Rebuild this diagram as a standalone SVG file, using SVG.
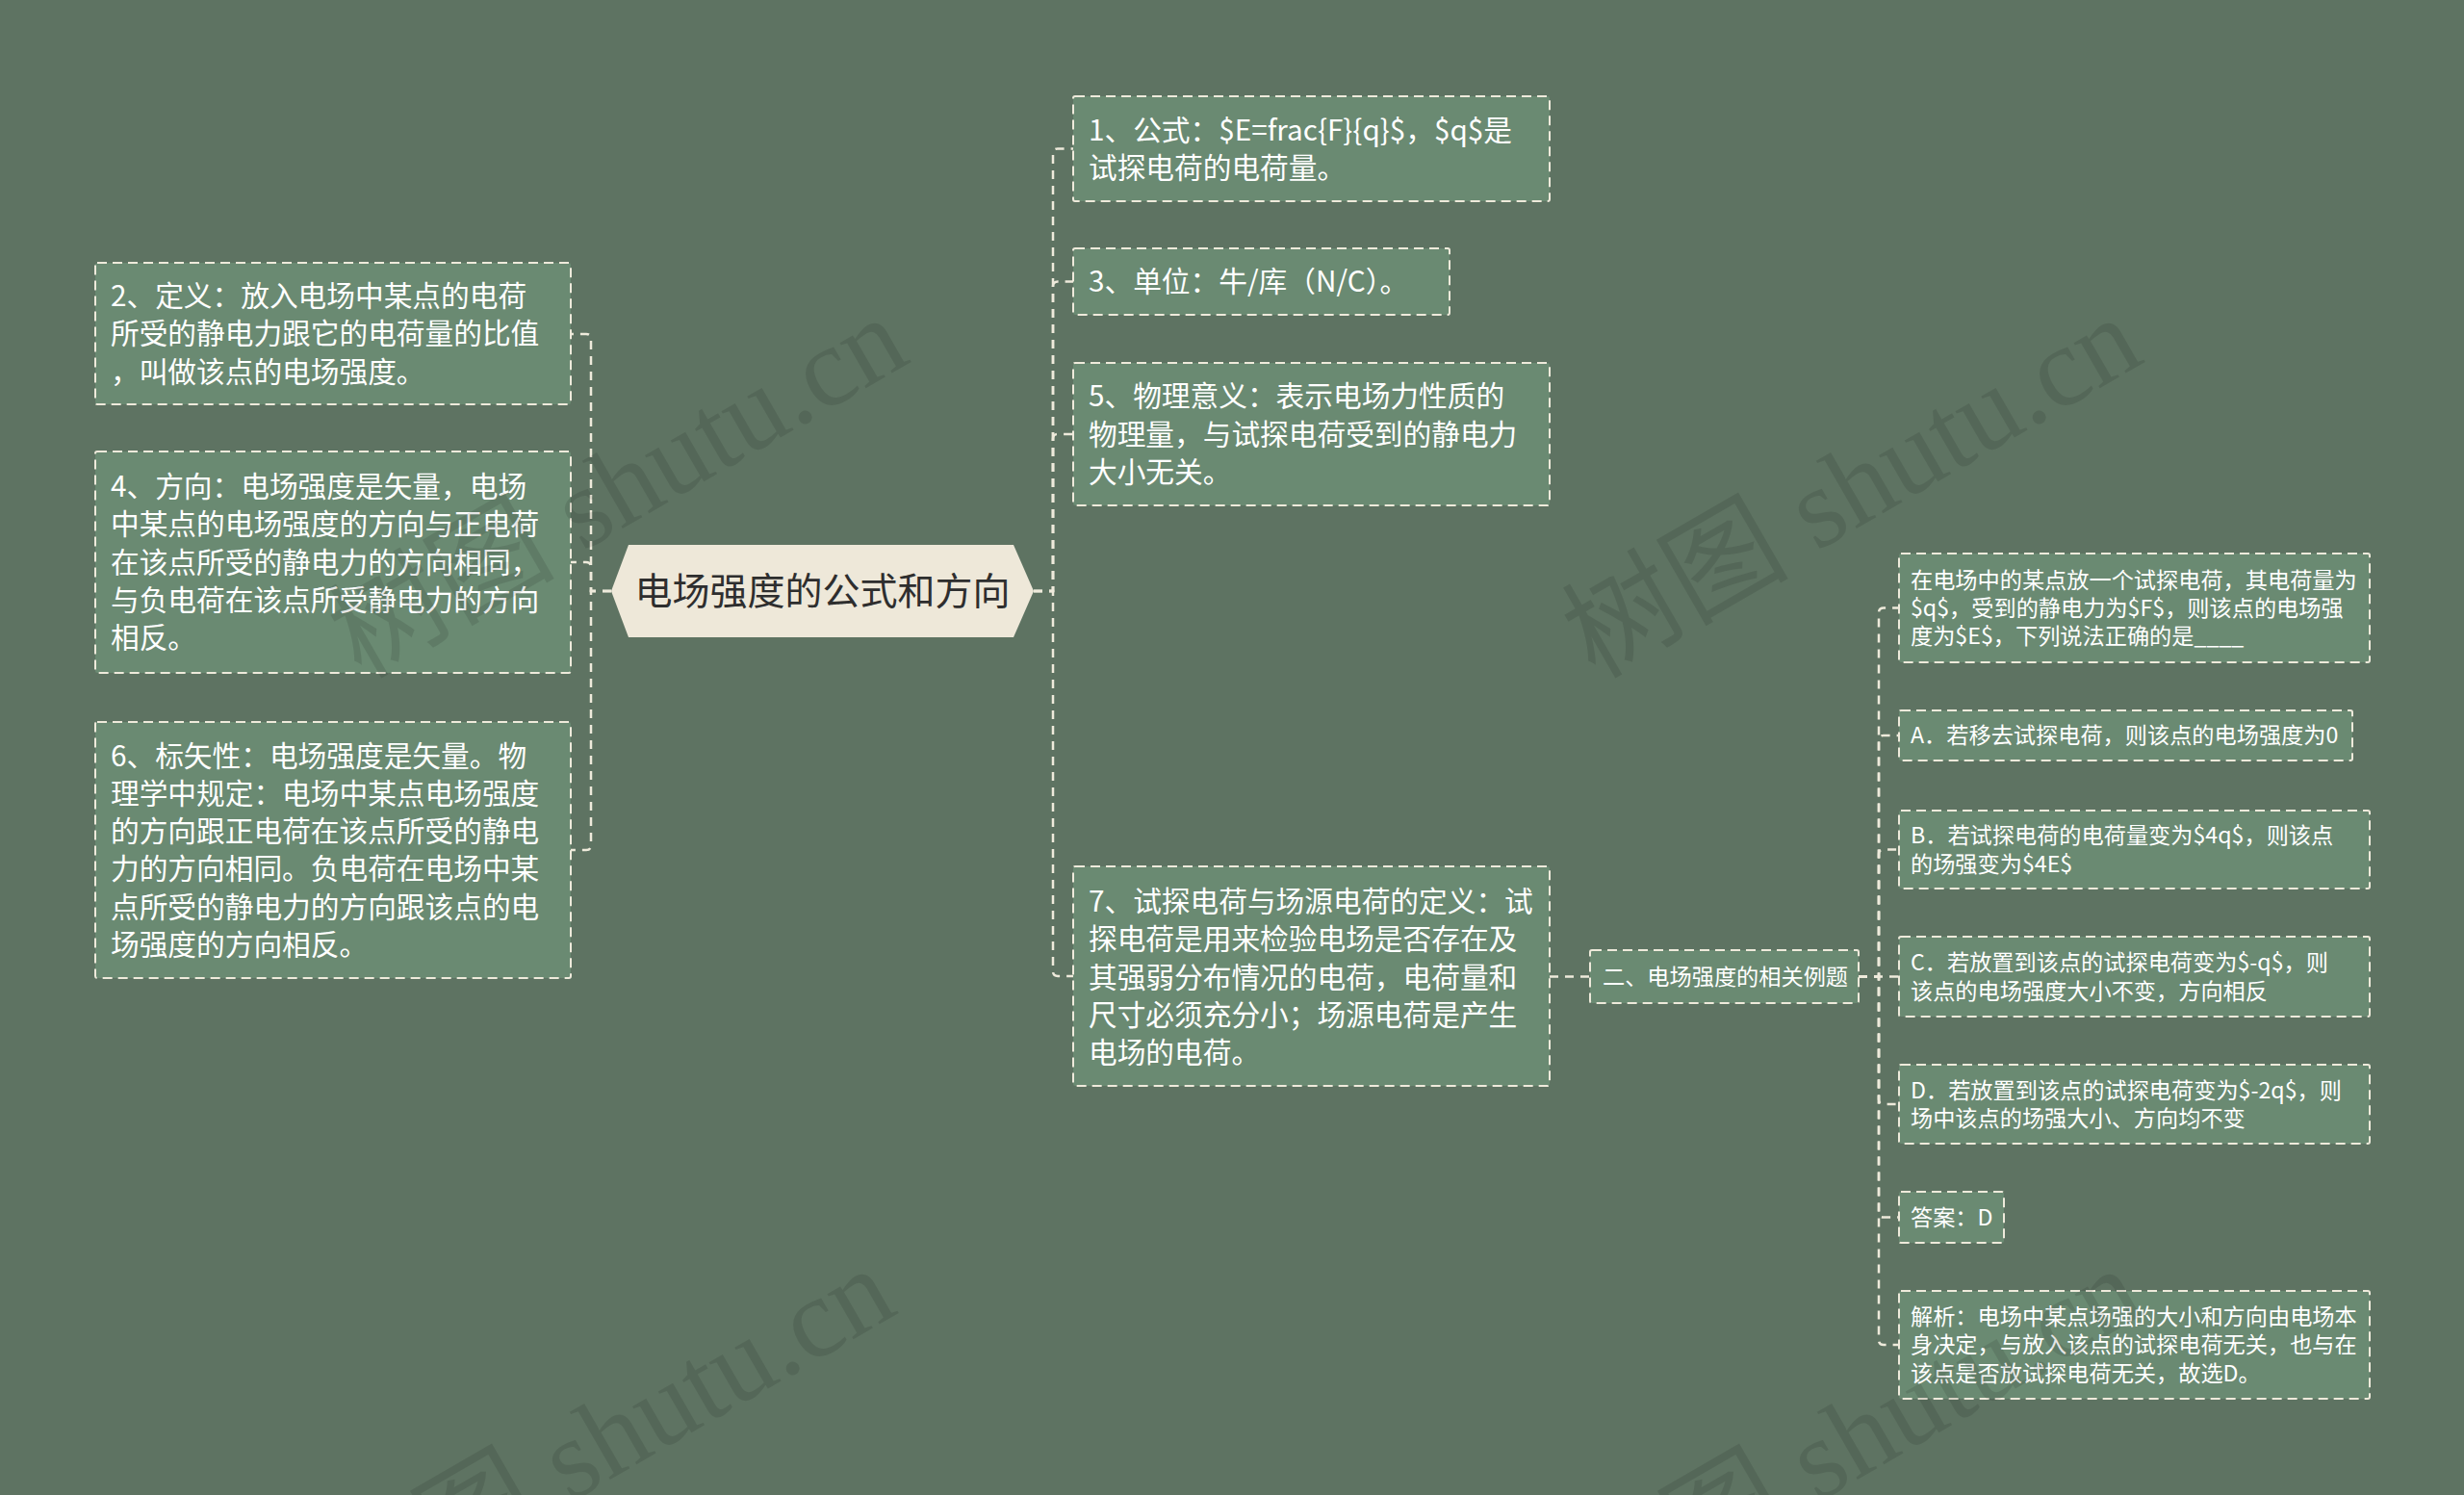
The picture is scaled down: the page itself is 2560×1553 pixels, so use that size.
<svg xmlns="http://www.w3.org/2000/svg" width="2560" height="1553" viewBox="0 0 2560 1553">
<style>
.n rect{fill:#6A8A72;stroke:#EEEADB;stroke-width:2;stroke-dasharray:10 6}
.t{fill:#FFFFFF;font-family:"Noto Sans CJK SC","Noto Sans",sans-serif;font-size:29.7px}
.s{fill:#FFFFFF;font-family:"Noto Sans CJK SC","Noto Sans",sans-serif;font-size:23.2px}
.c{fill:none;stroke:#EEEADB;stroke-width:2.5;stroke-dasharray:9 7}
.wm{fill:#000000;fill-opacity:0.1;font-family:"Liberation Serif","Noto Sans CJK SC",serif;font-size:118px}
</style>
<rect x="0" y="0" width="2560" height="1553" fill="#5E7362"/>
<g id="connectors">
<path class="c" d="M635,614 H614 V352 Q614,347 609,347 H593"/>
<path class="c" d="M635,614 H614 V589 Q614,584 609,584 H593"/>
<path class="c" d="M635,614 H614 V878 Q614,883 609,883 H593"/>
<path class="c" d="M1074,614 H1094 V159.5 Q1094,154.5 1099,154.5 H1115"/>
<path class="c" d="M1074,614 H1094 V297.5 Q1094,292.5 1099,292.5 H1115"/>
<path class="c" d="M1074,614 H1094 V456 Q1094,451 1099,451 H1115"/>
<path class="c" d="M1074,614 H1094 V1009 Q1094,1014 1099,1014 H1115"/>
<path class="c" d="M1610,1014.5 H1652"/>
<path class="c" d="M1931,1014.5 H1952 V636.5 Q1952,631.5 1957,631.5 H1973"/>
<path class="c" d="M1931,1014.5 H1952 V769 Q1952,764 1957,764 H1973"/>
<path class="c" d="M1931,1014.5 H1952 V887.5 Q1952,882.5 1957,882.5 H1973"/>
<path class="c" d="M1931,1014.5 H1973"/>
<path class="c" d="M1931,1014.5 H1952 V1142 Q1952,1147 1957,1147 H1973"/>
<path class="c" d="M1931,1014.5 H1952 V1259.5 Q1952,1264.5 1957,1264.5 H1973"/>
<path class="c" d="M1931,1014.5 H1952 V1392 Q1952,1397 1957,1397 H1973"/>
</g>
<g id="root">
<polygon points="635,614 653,566 1053,566 1074,614 1053,662 653,662" fill="#EEE8D9"/>
<text x="854.5" y="628" text-anchor="middle" font-family="Noto Sans CJK SC, Noto Sans, sans-serif" font-size="39" fill="#2E2E2E">电场强度的公式和方向</text>
</g>
<g id="n2" class="n">
<rect x="99" y="273" width="494" height="147" rx="2"/>
<text class="t" x="115"><tspan x="115" y="318">2、定义：放入电场中某点的电荷</tspan><tspan x="115" y="357.3">所受的静电力跟它的电荷量的比值</tspan><tspan x="115" y="396.6">，叫做该点的电场强度。</tspan></text>
</g>
<g id="n4" class="n">
<rect x="99" y="469" width="494" height="230" rx="2"/>
<text class="t"><tspan x="115" y="516">4、方向：电场强度是矢量，电场</tspan><tspan x="115" y="555.3">中某点的电场强度的方向与正电荷</tspan><tspan x="115" y="594.6">在该点所受的静电力的方向相同，</tspan><tspan x="115" y="633.9">与负电荷在该点所受静电力的方向</tspan><tspan x="115" y="673.2">相反。</tspan></text>
</g>
<g id="n6" class="n">
<rect x="99" y="750" width="494" height="266" rx="2"/>
<text class="t"><tspan x="115" y="795.5">6、标矢性：电场强度是矢量。物</tspan><tspan x="115" y="834.8">理学中规定：电场中某点电场强度</tspan><tspan x="115" y="874.1">的方向跟正电荷在该点所受的静电</tspan><tspan x="115" y="913.4">力的方向相同。负电荷在电场中某</tspan><tspan x="115" y="952.7">点所受的静电力的方向跟该点的电</tspan><tspan x="115" y="992">场强度的方向相反。</tspan></text>
</g>
<g id="n1" class="n">
<rect x="1115" y="100" width="495" height="109" rx="2"/>
<text class="t"><tspan x="1131" y="145.6">1、公式：$E=frac{F}{q}$，$q$是</tspan><tspan x="1131" y="184.9">试探电荷的电荷量。</tspan></text>
</g>
<g id="n3" class="n">
<rect x="1115" y="258" width="391" height="69" rx="2"/>
<text class="t" x="1131" y="303.3">3、单位：牛/库（N/C）。</text>
</g>
<g id="n5" class="n">
<rect x="1115" y="377" width="495" height="148" rx="2"/>
<text class="t"><tspan x="1131" y="422.4">5、物理意义：表示电场力性质的</tspan><tspan x="1131" y="461.7">物理量，与试探电荷受到的静电力</tspan><tspan x="1131" y="501">大小无关。</tspan></text>
</g>
<g id="n7" class="n">
<rect x="1115" y="900" width="495" height="228" rx="2"/>
<text class="t"><tspan x="1131" y="947">7、试探电荷与场源电荷的定义：试</tspan><tspan x="1131" y="986.3">探电荷是用来检验电场是否存在及</tspan><tspan x="1131" y="1025.6">其强弱分布情况的电荷，电荷量和</tspan><tspan x="1131" y="1064.9">尺寸必须充分小；场源电荷是产生</tspan><tspan x="1131" y="1104.2">电场的电荷。</tspan></text>
</g>
<g id="sub" class="n">
<rect x="1652" y="987" width="279" height="55" rx="2"/>
<text class="s" x="1665" y="1023">二、电场强度的相关例题</text>
</g>
<g id="q" class="n">
<rect x="1973" y="575" width="489" height="113" rx="2"/>
<text class="s"><tspan x="1985" y="610.6">在电场中的某点放一个试探电荷，其电荷量为</tspan><tspan x="1985" y="639.9">$q$，受到的静电力为$F$，则该点的电场强</tspan><tspan x="1985" y="669.2">度为$E$，下列说法正确的是____</tspan></text>
</g>
<g id="optA" class="n">
<rect x="1973" y="738" width="471" height="52" rx="2"/>
<text class="s" x="1985" y="772.4">A．若移去试探电荷，则该点的电场强度为0</text>
</g>
<g id="optB" class="n">
<rect x="1973" y="842" width="489" height="81" rx="2"/>
<text class="s"><tspan x="1985" y="876.3">B．若试探电荷的电荷量变为$4q$，则该点</tspan><tspan x="1985" y="905.6">的场强变为$4E$</tspan></text>
</g>
<g id="optC" class="n">
<rect x="1973" y="973" width="489" height="83" rx="2"/>
<text class="s"><tspan x="1985" y="1008.3">C．若放置到该点的试探电荷变为$-q$，则</tspan><tspan x="1985" y="1037.6">该点的电场强度大小不变，方向相反</tspan></text>
</g>
<g id="optD" class="n">
<rect x="1973" y="1106" width="489" height="82" rx="2"/>
<text class="s"><tspan x="1985" y="1140.8">D．若放置到该点的试探电荷变为$-2q$，则</tspan><tspan x="1985" y="1170.1">场中该点的场强大小、方向均不变</tspan></text>
</g>
<g id="answer" class="n">
<rect x="1973" y="1238" width="109" height="53" rx="2"/>
<text class="s" x="1985" y="1272.9">答案：D</text>
</g>
<g id="analysis" class="n">
<rect x="1973" y="1341" width="489" height="112" rx="2"/>
<text class="s"><tspan x="1985" y="1376">解析：电场中某点场强的大小和方向由电场本</tspan><tspan x="1985" y="1405.3">身决定，与放入该点的试探电荷无关，也与在</tspan><tspan x="1985" y="1434.6">该点是否放试探电荷无关，故选D。</tspan></text>
</g>
<g id="watermarks">
<text class="wm" transform="translate(375,706) rotate(-30)">树图 shutu.cn</text>
<text class="wm" transform="translate(1657,706) rotate(-30)">树图 shutu.cn</text>
<text class="wm" transform="translate(362,1694) rotate(-30)">树图 shutu.cn</text>
<text class="wm" transform="translate(1658,1694) rotate(-30)">树图 shutu.cn</text>
</g>
</svg>
